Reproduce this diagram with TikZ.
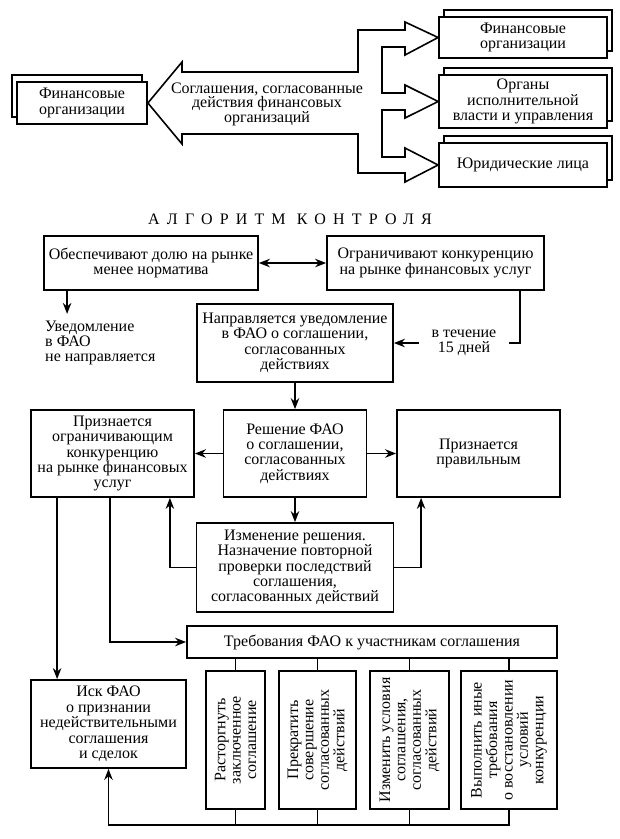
\documentclass[tikz,border=0pt]{standalone}
\usepackage{fontspec}
\setmainfont{Liberation Serif}
\usetikzlibrary{arrows.meta}

\begin{document}
\begin{tikzpicture}[x=1pt, y=-1pt,
  font=\fontsize{16}{15.4}\selectfont,
  box/.style={draw, line width=1.8pt, align=center, inner sep=1pt, fill=white},
  link/.style={line width=1.6pt},
  arr/.style={link, -{Stealth[length=11pt,width=8.5pt]}},
]
\useasboundingbox (0,0) rectangle (620,839);

\node[box, minimum width=130pt, minimum height=42pt] (fls) at (77,96) {};
\node[box, minimum width=130pt, minimum height=42pt] (fl) at (82,103) {Финансовые\\организации};
\node[box, minimum width=168pt, minimum height=41pt] (fr1s) at (528,30.5) {};
\node[box, minimum width=168pt, minimum height=41pt] (fr1) at (523,37.5) {Финансовые\\организации};
\node[box, minimum width=168pt, minimum height=53pt] (fr2s) at (528,94.5) {};
\node[box, minimum width=168pt, minimum height=53pt] (fr2) at (523,101.5) {Органы\\исполнительной\\власти и управления};
\node[box, minimum width=168pt, minimum height=44pt] (fr3s) at (528,158) {};
\node[box, minimum width=168pt, minimum height=44pt] (fr3) at (523,165) {Юридические лица};

\draw[link, fill=white] (fl.east) -- (182,62) -- (182,72) -- (358,72) -- (358,30) -- (405,30) -- (405,22)
  -- (fr1.west) -- (405,55) -- (405,47) -- (382,47) -- (382,93) -- (405,93) -- (405,85)
  -- (fr2.west) -- (405,118) -- (405,110) -- (382,110) -- (382,157) -- (405,157) -- (405,148)
  -- (fr3.west) -- (405,182) -- (405,173) -- (358,173) -- (358,134) -- (182,134) -- (182,144) -- cycle;
\node[align=center, inner sep=0pt, font=\fontsize{16}{14.5}\selectfont] (ag) at (267,104) {Соглашения, согласованные\\действия финансовых\\организаций};

\node (tt) at (290,219) {\addfontfeatures{LetterSpace=45}АЛГОРИТМ КОНТРОЛЯ};

\node[box, minimum width=214pt, minimum height=54pt] (a1) at (151,263) {Обеспечивают долю на рынке\\менее норматива};
\node[box, minimum width=217pt, minimum height=54pt] (a2) at (435.5,263) {Ограничивают конкуренцию\\на рынке финансовых услуг};
\draw[link, {Stealth[length=11pt,width=8.5pt]}-{Stealth[length=11pt,width=8.5pt]}] (a1) -- (a2);
\node[align=left, anchor=west, inner sep=0pt] (nt) at (45,343) {Уведомление\\в ФАО\\не направляется};
\draw[arr] ([xshift=24pt]a1.south west) -- ++(0,23);

\node[box, minimum width=196pt, minimum height=78pt] (c1) at (295,343) {Направляется уведомление\\в ФАО о соглашении,\\согласованных\\действиях};
\node[align=center, inner sep=0pt] (tc) at (464,343) {в течение\\15 дней};
\draw[link] ([xshift=-25pt]a2.south east) |- ([xshift=45pt]tc.center);
\draw[arr] ([xshift=-45pt]tc.center) -- (c1.east);

\node[box, minimum width=163pt, minimum height=87pt] (d1) at (112.5,453.5) {Признается\\ограничивающим\\конкуренцию\\на рынке финансовых\\услуг};
\node[box, minimum width=143pt, minimum height=87pt] (e1) at (295,453.5) {Решение ФАО\\о соглашении,\\согласованных\\действиях};
\node[box, minimum width=163pt, minimum height=87pt] (f1) at (478.5,453.5) {Признается\\правильным};
\node[box, minimum width=197pt, minimum height=89pt] (g1) at (295,567.5) {Изменение решения.\\Назначение повторной\\проверки последствий\\соглашения,\\согласованных действий};
\draw[arr] (c1) -- (e1);
\draw[arr] (e1) -- (d1);
\draw[arr] (e1) -- (f1);
\draw[arr] (e1) -- (g1);
\draw[arr] (g1.west) -| ([xshift=-25pt]d1.south east);
\draw[arr] (g1.east) -| ([xshift=25pt]f1.south west);

\node[box, minimum width=370pt, minimum height=32pt] (h1) at (372,642) {Требования ФАО к участникам соглашения};
\node[box, minimum width=155pt, minimum height=88pt] (i1) at (108.5,724) {Иск ФАО\\о признании\\недействительными\\соглашения\\и сделок};
\draw[arr] ([xshift=27pt]d1.south west) -- ([xshift=27pt]i1.north west);
\draw[arr] ([xshift=80pt]d1.south west) |- (h1.west);

\node[box, rotate=90, minimum width=138pt, minimum height=59pt] (v1) at (235.5,740) {Расторгнуть\\заключенное\\соглашение};
\node[box, rotate=90, minimum width=138pt, minimum height=77pt] (v2) at (317.5,740) {Прекратить\\совершение\\согласованных\\действий};
\node[box, rotate=90, minimum width=138pt, minimum height=79pt] (v3) at (409.5,740) {Изменить условия\\соглашения,\\согласованных\\действий};
\node[box, rotate=90, minimum width=138pt, minimum height=96pt] (v4) at (509,740) {Выполнить иные\\требования\\о восстановлении\\условий\\конкуренции};
\draw[link] (v1.east) -- (v1.east |- h1.south);
\draw[link] (v2.east) -- (v2.east |- h1.south);
\draw[link] (v3.east) -- (v3.east |- h1.south);
\draw[link] (v4.east) -- (v4.east |- h1.south);
\draw[link] (v1.west) -- ++(0,15);
\draw[link] (v2.west) -- ++(0,15);
\draw[link] (v3.west) -- ++(0,15);
\draw[arr] (v4.west) -- ++(0,15) -| (i1.south);
\end{tikzpicture}
\end{document}
